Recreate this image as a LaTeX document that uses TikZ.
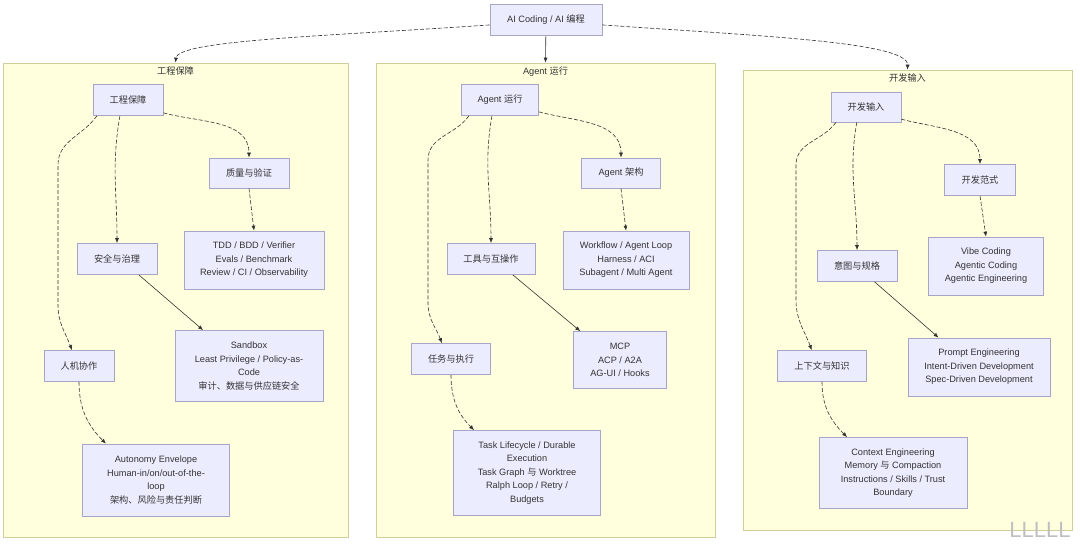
\documentclass[tikz,border=0pt]{standalone}
\usepackage{fontspec}
\setmainfont{Liberation Sans}
\newfontfamily\cjk{Noto Sans CJK SC}
\newcommand\zh[1]{{\cjk #1}}
\usetikzlibrary{arrows.meta}
\definecolor{grpfill}{HTML}{FFFFDE}
\definecolor{grpline}{HTML}{CFCF9E}
\definecolor{boxfill}{HTML}{ECECFF}
\definecolor{boxline}{HTML}{A8A6C8}
\definecolor{ink}{HTML}{333333}

\begin{document}
\begin{tikzpicture}[x=1pt, y=1pt,
  every node/.style={font=\fontsize{9.2}{13.5}\selectfont, text=ink,
    align=center, inner sep=0pt},
  grp/.style={draw=grpline, fill=grpfill, line width=0.7pt},
  box/.style={draw=boxline, fill=boxfill, line width=0.7pt},
  sz/.style 2 args={minimum width=#1, minimum height=#2},
  title/.style={anchor=north, inner sep=3.5pt},
  link/.style={draw=ink, line width=0.6pt, -{Latex[length=5pt,width=4pt]}},
  soft/.style={link, dash pattern=on 4pt off 2pt},
  ]
  \useasboundingbox[fill=white] (0,0) rectangle (1080,-544);

  \node[box, sz={112}{31}] (top) at (546,-20) {AI Coding / AI \zh{编程}};

  \node[grp, sz={345}{474}] (g1) at (175.5,-300) {};
  \node[title] (t1) at (g1.north) {\zh{工程保障}};
  \node[grp, sz={339}{474}] (g2) at (545.5,-300) {};
  \node[title] (t2) at (g2.north) {Agent \zh{运行}};
  \node[grp, sz={329}{460}] (g3) at (907.5,-300) {};
  \node[title] (t3) at (g3.north) {\zh{开发输入}};

  \node[box, sz={70}{31}] (a0) at (128,-100) {\zh{工程保障}};
  \node[box, sz={80}{30}] (a1) at (249,-173) {\zh{质量与验证}};
  \node[box, sz={140}{58}] (a2) at (254,-260)
    {TDD / BDD / Verifier\\Evals / Benchmark\\Review / CI / Observability};
  \node[box, sz={80}{31}] (a3) at (117,-259) {\zh{安全与治理}};
  \node[box, sz={148}{71}] (a4) at (249,-366)
    {Sandbox\\Least Privilege / Policy-as-\\Code\\\zh{审计、数据与供应链安全}};
  \node[box, sz={70}{31}] (a5) at (79,-366) {\zh{人机协作}};
  \node[box, sz={147}{72}] (a6) at (156,-480)
    {Autonomy Envelope\\Human-in/on/out-of-the-\\loop\\\zh{架构、风险与责任判断}};

  \node[box, sz={77}{31}] (b0) at (500,-100) {Agent \zh{运行}};
  \node[box, sz={79}{30}] (b1) at (621,-173) {Agent \zh{架构}};
  \node[box, sz={126}{58}] (b2) at (626,-260)
    {Workflow / Agent Loop\\Harness / ACI\\Subagent / Multi Agent};
  \node[box, sz={88}{31}] (b3) at (491,-259) {\zh{工具与互操作}};
  \node[box, sz={93}{57}] (b4) at (620,-360) {MCP\\ACP / A2A\\AG-UI / Hooks};
  \node[box, sz={79}{31}] (b5) at (451,-359) {\zh{任务与执行}};
  \node[box, sz={147}{85}] (b6) at (527,-473)
    {Task Lifecycle / Durable\\Execution\\Task Graph \zh{与} Worktree\\Ralph Loop / Retry /\\Budgets};

  \node[box, sz={70}{30}] (c0) at (866,-107) {\zh{开发输入}};
  \node[box, sz={71}{31}] (c1) at (980,-180) {\zh{开发范式}};
  \node[box, sz={115}{58}] (c2) at (986,-266)
    {Vibe Coding\\Agentic Coding\\Agentic Engineering};
  \node[box, sz={80}{31}] (c3) at (857,-266) {\zh{意图与规格}};
  \node[box, sz={142}{58}] (c4) at (979,-367)
    {Prompt Engineering\\Intent-Driven Development\\Spec-Driven Development};
  \node[box, sz={89}{31}] (c5) at (822,-366) {\zh{上下文与知识}};
  \node[box, sz={148}{71}] (c6) at (893,-473)
    {Context Engineering\\Memory \zh{与} Compaction\\Instructions / Skills / Trust\\Boundary};

  \draw[soft] (top.185) .. controls (330,-36) and (178,-40) .. (g1.north);
  \draw[link] (top) -- (g2.north);
  \draw[soft] (top.-5) .. controls (760,-36) and (908,-42) .. (g3.north);

  \draw[soft] (a0.-20) to[out=-15,in=90] (a1.north);
  \draw[soft] (a0.-117) to[out=-100,in=90] (a3.north);
  \draw[soft] (a0.-153) to[out=-125,in=90] (58,-165) -- (58,-305)
    to[out=-90,in=110] (a5.114);
  \draw[soft] (a1.south) -- (a2.north);
  \draw[link] (a3.-36) -- (a4.142);
  \draw[soft] (a5.south) to[out=-90,in=135] (a6.144);

  \draw[soft] (b0.-17) to[out=-15,in=90] (b1.north);
  \draw[soft] (b0.-117) to[out=-100,in=90] (b3.north);
  \draw[soft] (b0.-153) to[out=-125,in=90] (428,-160) -- (428,-303)
    to[out=-90,in=110] (b5.120);
  \draw[soft] (b1.south) -- (b2.north);
  \draw[link] (b3.-36) -- (b4.144);
  \draw[soft] (b5.south) to[out=-90,in=135] (b6.141);

  \draw[soft] (c0.-19) to[out=-15,in=90] (c1.north);
  \draw[soft] (c0.-121) to[out=-100,in=90] (c3.north);
  \draw[soft] (c0.-153) to[out=-125,in=90] (796,-165) -- (796,-300)
    to[out=-90,in=110] (c5.123);
  \draw[soft] (c1.south) -- (c2.north);
  \draw[link] (c3.-42) -- (c4.144);
  \draw[soft] (c5.south) to[out=-90,in=135] (c6.142);

  \node[font=\fontsize{22}{22}\selectfont, text=black!25] (mark) at (1040,-530) {LLLLL};
\end{tikzpicture}
\end{document}
